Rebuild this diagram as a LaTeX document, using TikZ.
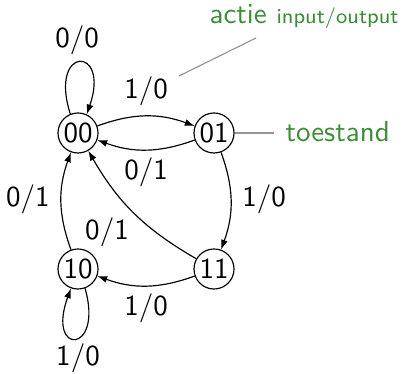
\documentclass[tikz,border=0pt]{standalone}
\usetikzlibrary{arrows.meta}
\definecolor{annot}{RGB}{61,140,56}
\definecolor{annotline}{RGB}{150,150,150}
\begin{document}
\begin{tikzpicture}[x=0.3448pt,y=-0.3448pt,font=\sffamily,
  state/.style={circle,draw,line width=0.4pt,minimum size=13.8pt,inner sep=0pt},
  lbl/.style={inner sep=0pt},
  conn/.style={line width=0.4pt,-{Latex[length=3.4pt,width=2.4pt]}},
  note/.style={inner sep=0pt,text=annot},
  noteline/.style={annotline,line width=0.4pt}]
\useasboundingbox (0,0) rectangle (402,374);
% states
\node[state] (n00) at (78,133) {00};
\node[state] (n01) at (214,133) {01};
\node[state] (n10) at (78,269) {10};
\node[state] (n11) at (214,269) {11};
% transitions
\draw[conn] (n00) to[bend left=20] (n01);
\draw[conn] (n01) to[bend left=20] (n00);
\draw[conn] (n01) to[bend left=20] (n11);
\draw[conn] (n11) to[bend left=20] (n10);
\draw[conn] (n10) to[bend left=20] (n00);
\draw[conn] (n11) to[bend left=15] (n00);
\draw[conn] (n00.112) .. controls +(-22,-69) and +(24,-69) .. (n00.65);
\draw[conn] (n10.-70) .. controls +(19,66) and +(-25,68) .. (n10.-110);
% labels
\node[lbl] (l00) at (77,40) {0/0};
\node[lbl] (l0001) at (146,91) {1/0};
\node[lbl] (l0100) at (146,172) {0/1};
\node[lbl] (l0111) at (264,199) {1/0};
\node[lbl] (l1000) at (28,199) {0/1};
\node[lbl] (l1100) at (107,232) {0/1};
\node[lbl] (l1110) at (146,308) {1/0};
\node[lbl] (l1010) at (78,358) {1/0};
% annotations
\node[note,anchor=base west] (actie) at (209,24) {actie};
\node[note,anchor=base west,font=\sffamily\fontsize{7.3pt}{9pt}\selectfont] (io) at (276,24) {input/output};
\node[note,anchor=base west] (toestand) at (285,142) {toestand};
\coordinate (a1) at (256,38);
\coordinate (a2) at (179,76);
\coordinate (t1) at (274,133);
\draw[noteline] (a1) -- (a2);
\draw[noteline] (n01.east) -- (t1);
\end{tikzpicture}
\end{document}
